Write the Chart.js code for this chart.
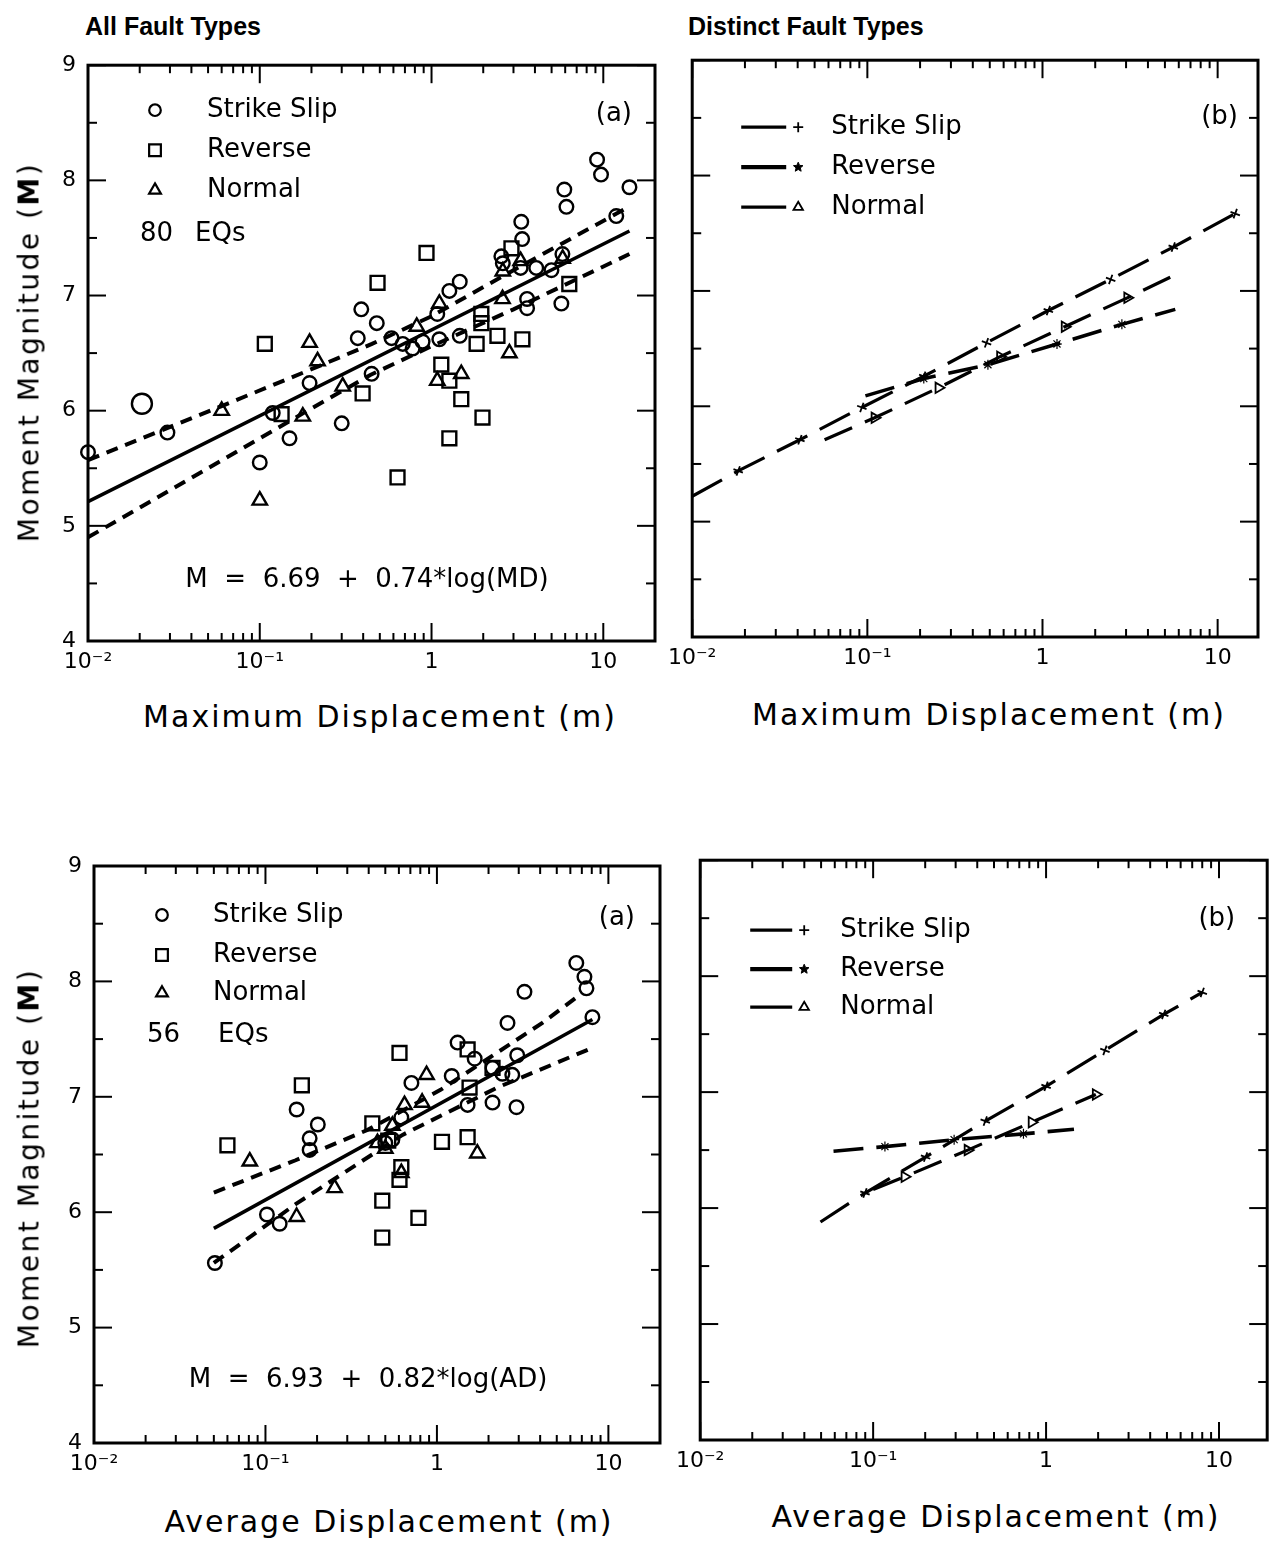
<!DOCTYPE html>
<html>
<head>
<meta charset="utf-8">
<title>Moment magnitude vs. displacement</title>
<script src="https://cdn.jsdelivr.net/npm/chart.js@4.4.1/dist/chart.umd.min.js"></script>
<style>
  html, body { margin: 0; padding: 0; background: #fff; }
  #page { position: relative; width: 1275px; height: 1541px; overflow: hidden; background: #fff;
          font-family: 'DejaVu Sans', sans-serif; color: #000; }
  canvas { position: absolute; }
  .head { position: absolute; font-family: 'Liberation Sans', Arial, sans-serif; font-weight: bold;
          font-size: 25px; white-space: nowrap; }
  .xtitle { position: absolute; font-size: 30px; letter-spacing: 2px; white-space: nowrap;
            transform: translate(-50%, -50%); }
  .ytitle { position: absolute; font-size: 28px; letter-spacing: 2.5px; white-space: nowrap;
            transform: translate(-50%, -50%) rotate(-90deg); }
</style>
</head>
<body>
<div id="page">
  <div class="head" style="left:85px; top:12px;">All Fault Types</div>
  <div class="head" style="left:688px; top:12px;">Distinct Fault Types</div>

  <canvas id="mdAll" width="672" height="650" style="left:0; top:40px;"></canvas>
  <canvas id="mdType" width="615" height="650" style="left:660px; top:35px;"></canvas>
  <canvas id="adAll" width="675" height="650" style="left:0; top:840px;"></canvas>
  <canvas id="adType" width="607" height="650" style="left:668px; top:835px;"></canvas>

  <div class="ytitle" style="left:29px; top:352px;">Moment Magnitude (<b>M</b>)</div>
  <div class="ytitle" style="left:29px; top:1158px;">Moment Magnitude (<b>M</b>)</div>
  <div class="xtitle" style="left:380px; top:716px;">Maximum Displacement (m)</div>
  <div class="xtitle" style="left:989px; top:714px;">Maximum Displacement (m)</div>
  <div class="xtitle" style="left:389px; top:1521px;">Average Displacement (m)</div>
  <div class="xtitle" style="left:996px; top:1516px;">Average Displacement (m)</div>
</div>

<script>
// x axis tick labels (log decades)
const decades = [0.01, 0.1, 1, 10];
const decadeLabels = ['10\u207B\u00B2', '10\u207B\u00B9', '1', '10'];
const minorSteps = [1, 2, 3, 4, 5, 6, 7, 8, 9];

// ---- top (a): maximum displacement, all fault types (80 EQs)
const ssMdX = [0.01, 0.0206, 0.029, 0.1, 0.119, 0.149, 0.195, 0.30, 0.372, 0.448,
               0.39, 0.48, 0.585, 0.68, 0.776, 0.887, 1.11, 1.08, 1.27, 1.46,
               1.46, 2.55, 2.6, 3.3, 3.6, 3.6, 3.33, 3.37, 4.07, 4.99,
               5.78, 5.7, 5.93, 6.1, 9.2, 9.7, 11.9, 14.2];
const ssMdM = [5.64, 6.06, 5.81, 5.55, 5.98, 5.76, 6.24, 5.89, 6.63, 6.32,
               6.88, 6.76, 6.63, 6.58, 6.54, 6.60, 6.62, 6.84, 7.04, 7.12,
               6.65, 7.34, 7.28, 7.24, 6.97, 6.89, 7.64, 7.49, 7.24, 7.22,
               7.36, 6.93, 7.92, 7.77, 8.18, 8.05, 7.69, 7.94];
const rvMdX = [0.107, 0.134, 0.397, 0.485, 0.935, 0.634, 1.14, 1.27, 1.49, 1.98,
               1.27, 1.83, 1.95, 1.95, 2.42, 3.38, 2.92, 6.34];
const rvMdM = [6.58, 5.97, 6.15, 7.11, 7.37, 5.42, 6.40, 6.26, 6.10, 5.94,
               5.76, 6.58, 6.84, 6.76, 6.65, 6.62, 7.41, 7.10];
const nmMdX = [0.060, 0.1, 0.178, 0.195, 0.217, 0.304, 0.82, 1.11, 1.08, 1.49,
               2.84, 2.59, 2.6, 3.3, 5.8];
const nmMdM = [6.0, 5.22, 5.95, 6.59, 6.43, 6.21, 6.73, 6.93, 6.26, 6.32,
               6.50, 6.97, 7.21, 7.30, 7.32];
const fitMdX = [0.01, 14.2];
const fitMdM = [5.21, 7.56];
const upMdX = [0.01, 0.06, 0.2, 0.45, 1, 3, 13.3];
const upMdM = [5.57, 6.04, 6.36, 6.58, 6.82, 7.22, 7.75];
const loMdX = [0.01, 0.05, 0.2, 0.44, 1, 3, 14.2];
const loMdM = [4.90, 5.50, 6.02, 6.31, 6.56, 6.88, 7.36];

// ---- top (b): maximum displacement, regressions by fault type
const ssLineMdX = [0.01, 0.0183, 0.0412, 0.093, 0.21, 0.479, 1.08, 2.45, 5.58, 12.6];
const ssLineMdM = [5.22, 5.44, 5.71, 5.99, 6.26, 6.55, 6.83, 7.10, 7.38, 7.67];
const rvLineMdX = [0.0975, 0.21, 0.488, 1.21, 2.84, 5.73];
const rvLineMdM = [6.09, 6.24, 6.36, 6.54, 6.71, 6.84];
const nmLineMdX = [0.057, 0.110, 0.255, 0.573, 1.34, 3.05, 5.73];
const nmLineMdM = [5.71, 5.90, 6.16, 6.43, 6.69, 6.94, 7.14];

// ---- bottom (a): average displacement, all fault types (56 EQs)
const ssAdX = [0.0507, 0.102, 0.121, 0.152, 0.202, 0.181, 0.181, 0.71, 1.22, 1.32,
               1.66, 2.94, 2.58, 2.41, 2.75, 1.51, 2.11, 2.91, 0.62, 0.5,
               0.55, 2.11, 6.5, 7.25, 7.45, 8.07, 3.24];
const ssAdM = [5.56, 5.98, 5.90, 6.89, 6.76, 6.64, 6.54, 7.12, 7.18, 7.47,
               7.33, 7.36, 7.64, 7.20, 7.19, 6.93, 6.95, 6.91, 6.82, 6.60,
               6.63, 7.25, 8.16, 8.04, 7.94, 7.69, 7.91];
const rvAdX = [0.060, 0.163, 0.42, 0.605, 1.51, 1.55, 1.07, 1.51, 0.62, 0.605,
               0.48, 0.78, 0.48, 2.11, 0.52];
const rvAdM = [6.58, 7.10, 6.77, 7.38, 7.41, 7.08, 6.61, 6.65, 6.39, 6.28,
               6.10, 5.95, 5.78, 7.25, 6.62];
const nmAdX = [0.081, 0.152, 0.253, 0.647, 0.82, 0.87, 1.72, 0.62, 0.5, 0.55, 0.45];
const nmAdM = [6.44, 5.96, 6.21, 6.93, 6.95, 7.19, 6.51, 6.34, 6.55, 6.75, 6.6];
const fitAdX = [0.05, 8.07];
const fitAdM = [5.86, 7.67];
const upAdX = [0.05, 0.15, 0.39, 1.05, 4.12, 7.05];
const upAdM = [6.17, 6.45, 6.71, 7.06, 7.64, 7.90];
const loAdX = [0.05, 0.15, 0.63, 2.25, 7.94];
const loAdM = [5.56, 6.07, 6.67, 7.08, 7.42];

// ---- bottom (b): average displacement, regressions by fault type
const ssLineAdX = [0.0496, 0.0897, 0.201, 0.445, 1.0, 2.19, 4.79, 8.0];
const ssLineAdM = [5.88, 6.13, 6.44, 6.75, 7.05, 7.36, 7.67, 7.86];
const rvLineAdX = [0.059, 0.117, 0.294, 0.74, 1.45];
const rvLineAdM = [6.49, 6.53, 6.59, 6.64, 6.68];
const nmLineAdX = [0.1, 0.152, 0.352, 0.826, 1.94];
const nmLineAdM = [6.16, 6.27, 6.50, 6.74, 6.98];

Chart.defaults.font.family = "'DejaVu Sans', sans-serif";
Chart.defaults.color = '#000';

const pts = (xs, ys) => xs.map((x, i) => ({ x, y: ys[i] }));

function logTicks(scale) {
  const ticks = [];
  decades.forEach(d => minorSteps.forEach(m => {
    const v = +(d * m).toPrecision(3);
    if (v <= scale.max + 1e-9) ticks.push({ value: v, major: m === 1 });
  }));
  scale.ticks = ticks;
}

function axes(g, showY) {
  return {
    x: {
      type: 'logarithmic', min: 0.01, max: g.xMax,
      afterBuildTicks: logTicks,
      afterFit: s => { s.height = g.xh; },
      grid: { display: false, drawTicks: false },
      border: { display: false },
      ticks: {
        autoSkip: false, maxRotation: 0, padding: 8, font: { size: 22 },
        callback: v => { const k = decades.indexOf(v); return k >= 0 ? decadeLabels[k] : ''; }
      }
    },
    y: {
      type: 'linear', min: 4, max: 9,
      afterFit: s => { s.width = g.yw; },
      grid: { display: false, drawTicks: false },
      border: { display: false },
      ticks: {
        stepSize: 0.5, padding: 12, font: { size: 22 },
        callback: v => (showY && Number.isInteger(v)) ? String(v) : ''
      }
    }
  };
}

// inward tick marks on all four sides plus the box
const frame = {
  id: 'frame',
  afterDatasetsDraw(chart) {
    const { ctx, chartArea: a, scales: { x, y } } = chart;
    const seg = (x1, y1, x2, y2) => { ctx.beginPath(); ctx.moveTo(x1, y1); ctx.lineTo(x2, y2); ctx.stroke(); };
    ctx.save();
    ctx.strokeStyle = '#000';
    ctx.lineWidth = 2;
    x.ticks.forEach(t => {
      const px = x.getPixelForValue(t.value);
      const len = t.major ? 18 : 8;
      seg(px, a.bottom, px, a.bottom - len);
      seg(px, a.top, px, a.top + len);
    });
    y.ticks.forEach(t => {
      const py = y.getPixelForValue(t.value);
      const len = Number.isInteger(t.value) ? 18 : 9;
      seg(a.left, py, a.left + len, py);
      seg(a.right, py, a.right - len, py);
    });
    ctx.lineWidth = 3;
    ctx.strokeRect(a.left, a.top, a.right - a.left, a.bottom - a.top);
    ctx.restore();
  }
};

function marker(ctx, style, x, y, r) {
  ctx.beginPath();
  if (style === 'circle') {
    ctx.arc(x, y, r, 0, Math.PI * 2);
  } else if (style === 'rect') {
    const h = r * Math.SQRT1_2;
    ctx.rect(x - h, y - h, 2 * h, 2 * h);
  } else if (style === 'triangle') {
    ctx.moveTo(x, y - r);
    ctx.lineTo(x + r * 0.866, y + r * 0.5);
    ctx.lineTo(x - r * 0.866, y + r * 0.5);
    ctx.closePath();
  } else if (style === 'cross') {
    ctx.moveTo(x - r, y); ctx.lineTo(x + r, y);
    ctx.moveTo(x, y - r); ctx.lineTo(x, y + r);
  } else if (style === 'star') {
    for (let i = 0; i < 10; i++) {
      const rr = i % 2 ? r * 0.45 : r;
      const ang = -Math.PI / 2 + i * Math.PI / 5;
      ctx[i ? 'lineTo' : 'moveTo'](x + rr * Math.cos(ang), y + rr * Math.sin(ang));
    }
    ctx.closePath();
    ctx.fill();
  }
  ctx.stroke();
}

// legend and annotation text inside the plot box
function decor(spec) {
  return {
    id: 'decor',
    afterDraw(chart) {
      const { ctx, chartArea: a } = chart;
      const sets = chart.data.datasets;
      ctx.save();
      ctx.fillStyle = '#000';
      ctx.strokeStyle = '#000';
      ctx.textBaseline = 'middle';
      spec.legend.forEach(item => {
        const ds = sets[item.set];
        const y = a.top + item.dy;
        if (item.dash) {
          ctx.lineWidth = item.lw;
          ctx.beginPath();
          ctx.moveTo(a.left + item.dash[0], y);
          ctx.lineTo(a.left + item.dash[1], y);
          ctx.stroke();
        }
        ctx.lineWidth = item.mw;
        marker(ctx, ds.pointStyle, a.left + item.mx, y, item.r);
        ctx.font = '26px "DejaVu Sans"';
        ctx.textAlign = 'left';
        ctx.fillText(ds.label, a.left + item.tx, y);
      });
      spec.texts.forEach(t => {
        ctx.font = t.size + 'px "DejaVu Sans"';
        ctx.textAlign = t.align;
        ctx.fillText(t.text, (t.fromRight ? a.right : a.left) + t.dx, a.top + t.dy);
      });
      ctx.restore();
    }
  };
}

function scatterSet(label, xs, ys, style, r) {
  return {
    type: 'scatter', label, data: pts(xs, ys),
    pointStyle: style, pointRadius: r, pointHoverRadius: r,
    pointBorderColor: '#000', pointBackgroundColor: 'rgba(0,0,0,0)', pointBorderWidth: 2.4,
    clip: false
  };
}

function fitLine(xs, ys, dash, width) {
  return {
    type: 'line', label: '', data: pts(xs, ys),
    borderColor: '#000', borderWidth: width, borderDash: dash, borderCapStyle: 'butt',
    pointRadius: 0, fill: false, tension: 0, clip: false
  };
}

function faultLine(label, xs, ys, style, opt) {
  const last = xs.length - 1;
  return {
    type: 'line', label, data: pts(xs, ys),
    borderColor: '#000', borderWidth: opt.width, borderDash: opt.dash, borderCapStyle: 'butt',
    pointStyle: style,
    pointRadius: c => (c.dataIndex === 0 || (opt.bareEnd && c.dataIndex === last)) ? 0 : opt.r,
    pointRotation: opt.rot, pointBorderWidth: opt.mw,
    pointBorderColor: '#000', pointBackgroundColor: style === 'star' ? '#000' : 'rgba(0,0,0,0)',
    fill: false, tension: 0, clip: false
  };
}

function makeChart(id, g, showY, datasets, spec) {
  return new Chart(document.getElementById(id), {
    type: 'scatter',
    data: { datasets },
    options: {
      responsive: false, animation: false, events: [],
      layout: { padding: { top: g.padTop, right: g.padRight, left: 0, bottom: 0 } },
      plugins: { legend: { display: false }, tooltip: { enabled: false } },
      scales: axes(g, showY)
    },
    plugins: [frame, decor(spec)]
  });
}

// panel geometry (canvas pixels)
const geomMdAll  = { xMax: 20, yw: 88, xh: 49, padTop: 23, padRight: 17 };
const geomMdType = { xMax: 17, yw: 31, xh: 48, padTop: 20, padRight: 17 };
const geomAdAll  = { xMax: 20, yw: 94, xh: 47, padTop: 26, padRight: 15 };
const geomAdType = { xMax: 19, yw: 30, xh: 45, padTop: 23, padRight: 3 };

const ssOpt = { width: 3.2, dash: [34, 14], r: 5, rot: 20, mw: 1.8 };
const rvOpt = { width: 3.6, dash: [30, 13], r: 5, rot: 0, mw: 1.2, bareEnd: true };
const nmOpt = { width: 3.2, dash: [30, 14], r: 6, rot: 90, mw: 1.8, bareEnd: true };

makeChart('mdAll', geomMdAll, true, [
  scatterSet('Strike Slip', ssMdX, ssMdM, 'circle', c => c.dataIndex === 1 ? 10 : 6.8),
  scatterSet('Reverse', rvMdX, rvMdM, 'rect', 9.8),
  scatterSet('Normal', nmMdX, nmMdM, 'triangle', 8.3),
  fitLine(fitMdX, fitMdM, [], 3.5),
  fitLine(upMdX, upMdM, [12, 8], 4),
  fitLine(loMdX, loMdM, [12, 8], 4)
], {
  legend: [
    { set: 0, dy: 45, mx: 67, tx: 119, r: 5.8, mw: 2.2 },
    { set: 1, dy: 85, mx: 67, tx: 119, r: 8.3, mw: 2.2 },
    { set: 2, dy: 125, mx: 67, tx: 119, r: 6.8, mw: 2.2 }
  ],
  texts: [
    { text: '80', dx: 52, dy: 169, align: 'left', size: 26 },
    { text: 'EQs', dx: 107, dy: 169, align: 'left', size: 26 },
    { text: '(a)', dx: -23, dy: 49, align: 'right', size: 26, fromRight: true },
    { text: 'M  =  6.69  +  0.74*log(MD)', dx: 279, dy: 515, align: 'center', size: 26 }
  ]
});

makeChart('mdType', geomMdType, false, [
  faultLine('Strike Slip', ssLineMdX, ssLineMdM, 'cross', ssOpt),
  faultLine('Reverse', rvLineMdX, rvLineMdM, 'star', rvOpt),
  faultLine('Normal', nmLineMdX, nmLineMdM, 'triangle', nmOpt)
], {
  legend: [
    { set: 0, dy: 67, dash: [49, 94], lw: 3.2, mx: 106, tx: 139, r: 5, mw: 1.8 },
    { set: 1, dy: 107, dash: [49, 94], lw: 4.2, mx: 106, tx: 139, r: 5, mw: 1 },
    { set: 2, dy: 147, dash: [49, 94], lw: 3.2, mx: 106, tx: 139, r: 5.5, mw: 1.8 }
  ],
  texts: [
    { text: '(b)', dx: -20, dy: 57, align: 'right', size: 26, fromRight: true }
  ]
});

makeChart('adAll', geomAdAll, true, [
  scatterSet('Strike Slip', ssAdX, ssAdM, 'circle', 6.8),
  scatterSet('Reverse', rvAdX, rvAdM, 'rect', 9.8),
  scatterSet('Normal', nmAdX, nmAdM, 'triangle', 8.3),
  fitLine(fitAdX, fitAdM, [], 3.5),
  fitLine(upAdX, upAdM, [12, 8], 4),
  fitLine(loAdX, loAdM, [12, 8], 4)
], {
  legend: [
    { set: 0, dy: 49, mx: 68, tx: 119, r: 5.8, mw: 2.2 },
    { set: 1, dy: 89, mx: 68, tx: 119, r: 8.3, mw: 2.2 },
    { set: 2, dy: 127, mx: 68, tx: 119, r: 6.8, mw: 2.2 }
  ],
  texts: [
    { text: '56', dx: 53, dy: 169, align: 'left', size: 26 },
    { text: 'EQs', dx: 124, dy: 169, align: 'left', size: 26 },
    { text: '(a)', dx: -25, dy: 52, align: 'right', size: 26, fromRight: true },
    { text: 'M  =  6.93  +  0.82*log(AD)', dx: 274, dy: 514, align: 'center', size: 26 }
  ]
});

makeChart('adType', geomAdType, false, [
  faultLine('Strike Slip', ssLineAdX, ssLineAdM, 'cross', ssOpt),
  faultLine('Reverse', rvLineAdX, rvLineAdM, 'star', rvOpt),
  faultLine('Normal', nmLineAdX, nmLineAdM, 'triangle', { ...nmOpt, bareEnd: false })
], {
  legend: [
    { set: 0, dy: 70, dash: [50, 92], lw: 3.2, mx: 104, tx: 140, r: 5, mw: 1.8 },
    { set: 1, dy: 109, dash: [50, 92], lw: 4.2, mx: 104, tx: 140, r: 5, mw: 1 },
    { set: 2, dy: 147, dash: [50, 92], lw: 3.2, mx: 104, tx: 140, r: 5.5, mw: 1.8 }
  ],
  texts: [
    { text: '(b)', dx: -32, dy: 59, align: 'right', size: 26, fromRight: true }
  ]
});
</script>
</body>
</html>
